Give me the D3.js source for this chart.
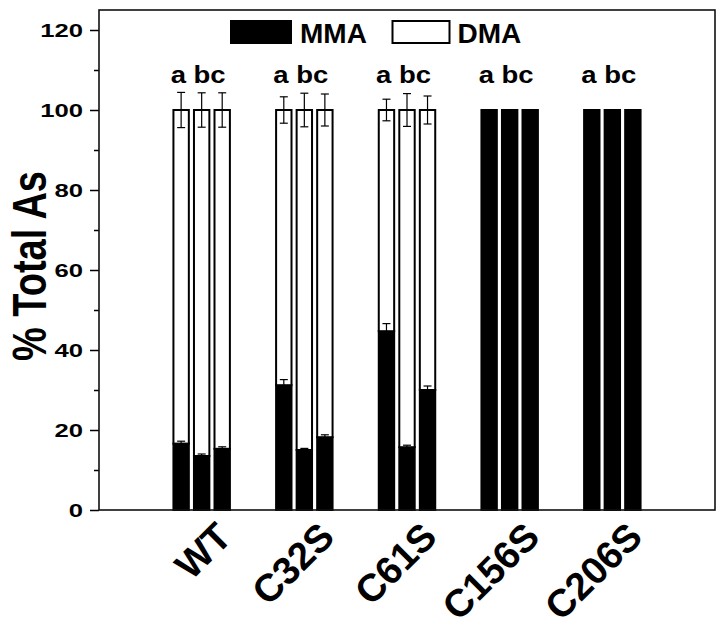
<!DOCTYPE html>
<html>
<head>
<meta charset="utf-8">
<script src="https://cdn.jsdelivr.net/npm/d3@7"></script>
<style>
	body { margin: 0; background: #fff; }
	text { font-family: "Liberation Sans", Arial, sans-serif; font-weight: bold; fill: #000; }
</style>
</head>
<body>
<svg id="chart" width="726" height="628"></svg>
<script>
// values (% of total As)
var groups = ["WT", "C32S", "C61S", "C156S", "C206S"];
var mma = [[16.6, 13.5, 15.3], [31.2, 15.0, 18.2], [44.7, 15.7, 30.0], [100, 100, 100], [100, 100, 100]];
var dma = [[83.4, 86.5, 84.7], [68.8, 85.0, 81.8], [55.3, 84.3, 70.0], [0, 0, 0], [0, 0, 0]];
var mmaErr = [[0.6, 0.5, 0.5], [1.4, 0.4, 0.6], [1.9, 0.5, 1.0], [0, 0, 0], [0, 0, 0]];
var dmaErr = [[4.4, 4.3, 4.3], [3.3, 4.2, 4.0], [2.7, 4.1, 3.5], [0, 0, 0], [0, 0, 0]];
var letters = ["a bc", "a bc", "a bc", "a bc", "a bc"];
var yTicks = [0, 20, 40, 60, 80, 100, 120];
var yMinor = [10, 30, 50, 70, 90, 110];
var seriesNames = ["MMA", "DMA"];

var svg = d3.select("#chart");

var x = d3.scaleLinear().domain([0, 6]).range([99, 715]);
var y = d3.scaleLinear().domain([0, 125]).range([510, 10]);

var barStep = 0.2;
var barWidth = 0.15;
var capHalf = 4;

// flatten into one record per bar
var bars = [];
groups.forEach(function(g, gi) {
	mma[gi].forEach(function(m, bi) {
		bars.push({
			group: g,
			pos: gi + 1 + (bi - 1) * barStep,
			mma: m,
			dma: dma[gi][bi],
			mmaErr: mmaErr[gi][bi],
			dmaErr: dmaErr[gi][bi]
		});
	});
});

var plot = svg.append("g");

// MMA (black, bottom of stack)
plot.selectAll("rect.mma")
	.data(bars)
	.enter().append("rect")
	.attr("class", "mma")
	.attr("x", function(d) { return x(d.pos - barWidth / 2); })
	.attr("width", x(barWidth) - x(0))
	.attr("y", function(d) { return y(d.mma); })
	.attr("height", function(d) { return y(0) - y(d.mma); })
	.attr("fill", "#000")
	.attr("stroke", "#000")
	.attr("stroke-width", 2);

// DMA (white, stacked on top)
plot.selectAll("rect.dma")
	.data(bars.filter(function(d) { return d.dma > 0; }))
	.enter().append("rect")
	.attr("class", "dma")
	.attr("x", function(d) { return x(d.pos - barWidth / 2); })
	.attr("width", x(barWidth) - x(0))
	.attr("y", function(d) { return y(d.mma + d.dma); })
	.attr("height", function(d) { return y(d.mma) - y(d.mma + d.dma); })
	.attr("fill", "#fff")
	.attr("stroke", "#000")
	.attr("stroke-width", 2);

// error bars
var errs = [];
bars.forEach(function(d) {
	if (d.mmaErr > 0) errs.push({pos: d.pos, v: d.mma, e: d.mmaErr});
	if (d.dmaErr > 0) errs.push({pos: d.pos, v: d.mma + d.dma, e: d.dmaErr});
});

var eb = plot.selectAll("g.err")
	.data(errs)
	.enter().append("g")
	.attr("class", "err")
	.attr("stroke", "#000")
	.attr("stroke-width", 1.2);

eb.append("line")
	.attr("x1", function(d) { return x(d.pos); })
	.attr("x2", function(d) { return x(d.pos); })
	.attr("y1", function(d) { return y(d.v - d.e); })
	.attr("y2", function(d) { return y(d.v + d.e); });

eb.append("line")
	.attr("x1", function(d) { return x(d.pos) - capHalf; })
	.attr("x2", function(d) { return x(d.pos) + capHalf; })
	.attr("y1", function(d) { return y(d.v + d.e); })
	.attr("y2", function(d) { return y(d.v + d.e); });

eb.append("line")
	.attr("x1", function(d) { return x(d.pos) - capHalf; })
	.attr("x2", function(d) { return x(d.pos) + capHalf; })
	.attr("y1", function(d) { return y(d.v - d.e); })
	.attr("y2", function(d) { return y(d.v - d.e); });

// significance letters
plot.selectAll("text.sig")
	.data(letters)
	.enter().append("text")
	.attr("class", "sig")
	.attr("x", function(d, i) { return x(i + 1) - 31; })
	.attr("y", y(106.8))
	.attr("font-size", 23)
	.attr("textLength", 55)
	.attr("lengthAdjust", "spacingAndGlyphs")
	.text(function(d) { return d; });

// y axis with major and minor ticks
var yAxis = svg.append("g")
	.attr("transform", "translate(" + x(0) + ",0)")
	.call(d3.axisLeft(y).tickValues(yTicks).tickSize(9).tickFormat(d3.format("d")));

yAxis.select(".domain").remove();
yAxis.selectAll(".tick line").attr("stroke", "#000").attr("stroke-width", 1.5);
yAxis.selectAll(".tick text")
	.attr("font-size", 19)
	.attr("font-family", null)
	.attr("x", -16 / 1.35)
	.attr("transform", "scale(1.35,1)");

var yAxisMinor = svg.append("g")
	.attr("transform", "translate(" + x(0) + ",0)")
	.call(d3.axisLeft(y).tickValues(yMinor).tickSize(5).tickFormat(""));

yAxisMinor.select(".domain").remove();
yAxisMinor.selectAll(".tick line").attr("stroke", "#000").attr("stroke-width", 1.5);

// frame
svg.append("rect")
	.attr("x", x(0))
	.attr("y", y(125))
	.attr("width", x(6) - x(0))
	.attr("height", y(0) - y(125))
	.attr("fill", "none")
	.attr("stroke", "#111")
	.attr("stroke-width", 1.6);

// y title
svg.append("text")
	.attr("transform", "translate(46,266) scale(1.25,1) rotate(-90)")
	.attr("text-anchor", "middle")
	.attr("font-size", 38)
	.text("% Total As");

// x labels, rotated 45 degrees
svg.selectAll("text.xlab")
	.data(groups)
	.enter().append("text")
	.attr("class", "xlab")
	.attr("text-anchor", "end")
	.attr("font-size", 38.5)
	.attr("transform", function(d, i) { return "translate(" + (x(i + 1) + 32) + ",539) rotate(-45)"; })
	.text(function(d) { return d; });

// legend
var legend = svg.append("g");
var legendX = [231, 392.5];
var legendFill = ["#000", "#fff"];

legend.selectAll("rect")
	.data(seriesNames)
	.enter().append("rect")
	.attr("x", function(d, i) { return legendX[i]; })
	.attr("y", 21)
	.attr("width", function(d, i) { return i === 0 ? 60 : 57; })
	.attr("height", 22)
	.attr("fill", function(d, i) { return legendFill[i]; })
	.attr("stroke", "#000")
	.attr("stroke-width", 2);

legend.selectAll("text")
	.data(seriesNames)
	.enter().append("text")
	.attr("x", function(d, i) { return legendX[i] + (i === 0 ? 69 : 65); })
	.attr("y", 43)
	.attr("font-size", 28)
	.text(function(d) { return d; });
</script>
</body>
</html>
